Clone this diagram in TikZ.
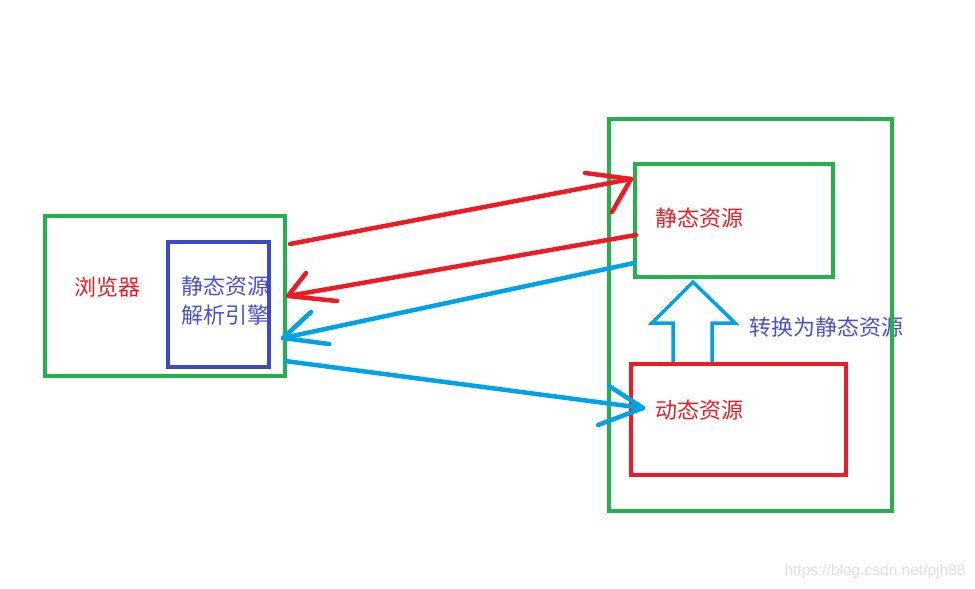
\documentclass[tikz,border=0pt]{standalone}
\usepackage{fontspec}
\setsansfont{Liberation Sans}
\newfontfamily\cjk{Noto Sans CJK SC}
\usetikzlibrary{arrows.meta,calc}
\definecolor{paintgreen}{HTML}{22B14C}
\definecolor{paintred}{HTML}{ED1C24}
\definecolor{paintblue}{HTML}{3F48CC}
\definecolor{paintcyan}{HTML}{00A2E8}
\definecolor{labelblue}{HTML}{4B50D0}

\tikzset{
  box/.style={draw=#1,line width=4pt,inner sep=0pt},
  lbl/.style={font=\cjk\fontsize{22}{29}\selectfont,inner sep=0pt,align=left},
  stroke/.style={draw=#1,line width=4.5pt,line cap=round,line join=round}
}

\begin{document}
\begin{tikzpicture}[x=1pt,y=-1pt]
  \useasboundingbox (0,0) rectangle (975,589);

  % texts first, the box lines run over them
  \node[lbl,text=paintred] (browser) at (107,287) {浏览器};
  \node[lbl,text=labelblue,anchor=west] (engine) at (181,301) {静态资源\\解析引擎};
  \node[lbl,text=paintred] (statictxt) at (699,218) {静态资源};
  \node[lbl,text=paintred] (dynamictxt) at (699,410) {动态资源};
  \node[lbl,text=labelblue,anchor=west] (convert) at (749,327) {转换为静态资源};

  % client side
  \node[box=paintgreen,minimum width=240,minimum height=160] (client) at (165,296) {};
  \node[box=paintblue,minimum width=101,minimum height=125] (parser) at (218.5,304.5) {};

  % server side
  \node[box=paintgreen,minimum width=283,minimum height=392] (server) at (750.5,315) {};
  \node[box=paintgreen,minimum width=198,minimum height=113] (static) at (734,220.5) {};
  \draw[stroke=paintcyan,line width=3.5pt,line cap=butt,line join=miter]
    (673,364) -- (673,323) -- (652,323) -- (693,282) -- (735,323) -- (712,323) -- (712,364);
  \node[box=paintred,minimum width=215,minimum height=111] (dynamic) at (738.5,419.5) {};

  % request / response strokes
  \coordinate (reqA) at (290,244);   \coordinate (reqB) at (631,179);
  \coordinate (resA) at (636,235);   \coordinate (resB) at (288,296);
  \coordinate (convA) at (634,263);  \coordinate (convB) at (283,338);
  \coordinate (dynA) at (285,361);   \coordinate (dynB) at (643,408);

  \draw[stroke=paintred] (reqA) -- (reqB);
  \draw[stroke=paintred] (reqB) ++(-46,-6) -- (reqB) -- ++(-19,33);
  \draw[stroke=paintred] (resA) -- (resB);
  \draw[stroke=paintred] (resB) ++(18,-23) -- (resB) -- ++(49,5);
  \draw[stroke=paintcyan] (convA) -- (convB);
  \draw[stroke=paintcyan] (convB) ++(28,-26) -- (convB) -- ++(46,6);
  \draw[stroke=paintcyan] (dynA) -- (dynB);
  \draw[stroke=paintcyan] (dynB) ++(-34,-22) -- (dynB) -- ++(-45,17);

  \node[font=\sffamily\fontsize{15.5}{17}\selectfont,text=black!12,inner sep=0pt] (mark) at (875,571) {https://blog.csdn.net/pjh88};
\end{tikzpicture}
\end{document}
